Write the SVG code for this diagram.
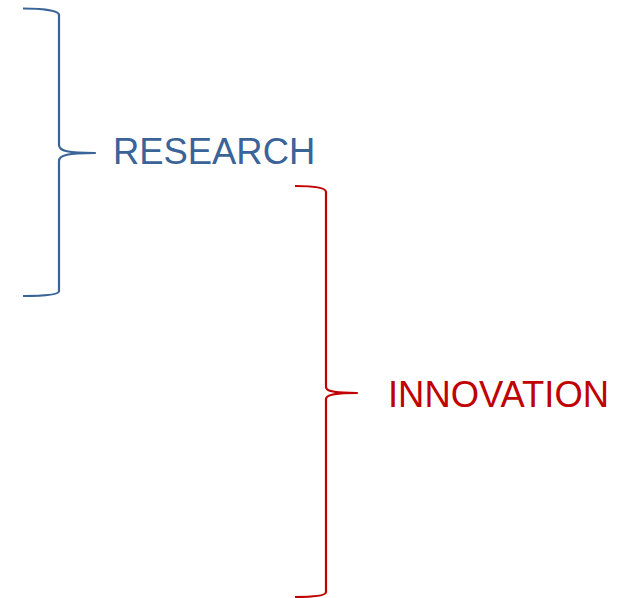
<svg xmlns="http://www.w3.org/2000/svg" width="624" height="598" viewBox="0 0 624 598">
<style>
.brace{fill:none;stroke-width:2.2;stroke-linejoin:round;stroke-linecap:butt}
.lbl{font-family:"Liberation Sans",Arial,sans-serif;font-size:36.4px}
</style>
<rect width="624" height="598" fill="#ffffff"/>
<g id="research">
<path class="brace" stroke="#3A6398" d="M23,8.5 C40,8.5 59,10 59,15 L59,145 C59,151 68,153 95,153 C68,153 59,155 59,161 L59,291 C59,295 40,296 23,296"/>
<text class="lbl" fill="#3A6398" x="113" y="164">RESEARCH</text>
</g>
<g id="innovation">
<path class="brace" stroke="#C00000" d="M295,186 C310,186 326,187 326,192 L326,387 C326,391 334,393 357,393 C334,393 326,395 326,399 L326,592 C326,596 310,597 295,597"/>
<text class="lbl" fill="#C00000" x="388" y="407">INNOVATION</text>
</g>
</svg>
